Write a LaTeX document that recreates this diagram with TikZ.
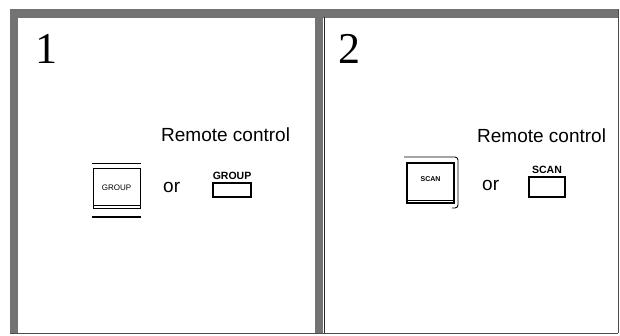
\documentclass[tikz,border=0pt]{standalone}
\usepackage{fontspec}
\setmainfont{Liberation Serif}
\setsansfont{Liberation Sans}
\usetikzlibrary{positioning}

\begin{document}
\begin{tikzpicture}[x=1pt, y=-1pt,
    band/.style={fill=black!55, draw=none},
    edge/.style={draw=black!70, line width=1pt},
    stepnum/.style={anchor=base west, inner sep=0pt, font=\fontsize{44}{44}\selectfont},
    caption/.style={anchor=base west, inner sep=0pt, font=\sffamily\fontsize{19}{19}\selectfont},
    panelkey/.style={draw, line width=0.9pt, minimum width=47pt, minimum height=40pt, inner sep=0pt,
                     font=\sffamily\fontsize{8}{8}\selectfont},
    remotekey/.style={draw, line width=1.4pt, inner sep=0pt},
    remotelbl/.style={inner sep=0pt, font=\sffamily\bfseries\fontsize{10.5}{10.5}\selectfont}]
  \useasboundingbox (0,0) rectangle (620,335);
  % Frame
  \fill[band] (10,9) rectangle (618,17.5);
  \fill[band] (10,9) rectangle (17.5,333);
  \fill[band] (315,9) rectangle (323,333);
  \draw[black!85, line width=0.8pt] (324,17) -- (324,333);
  \draw[edge] (618,9) -- (618,333);
  \draw[edge] (10,333) -- (618,333);
  % Step 1
  \node[stepnum] (num1) at (35,63) {1};
  \node[caption] (remote1) at (161,141) {Remote control};
  \node[panelkey] (group) at (116.5,188) {GROUP};
  \draw[line width=0.9pt] (92,163) -- (141,163);
  \draw[line width=0.7pt] (94,205.5) -- (139.5,205.5);
  \draw[line width=1.4pt] (92,217) -- (141,217);
  \node[caption] (or1) at (163,192) {or};
  \node[remotekey, minimum width=38pt, minimum height=14pt] (grouprc) at (232,190) {};
  \node[remotelbl, above=3pt of grouprc] (grouplbl) {GROUP};
  % Step 2
  \node[stepnum] (num2) at (338,63) {2};
  \node[caption] (remote2) at (477,142) {Remote control};
  \node[panelkey, line width=1.2pt, font=\sffamily\bfseries\fontsize{7}{7}\selectfont] (scan) at (430.5,183) {\raisebox{8pt}{SCAN}};
  \draw[line width=0.7pt] (408,200) -- (453.5,200);
  \draw[line width=0.9pt, rounded corners=3pt] (404,157) -- (458,157) -- (458,208) -- (452,208);
  \node[caption] (or2) at (482,190) {or};
  \node[remotekey, minimum width=36pt, minimum height=20pt] (scanrc) at (547,187) {};
  \node[remotelbl, above=3pt of scanrc] (scanlbl) {SCAN};
\end{tikzpicture}
\end{document}
